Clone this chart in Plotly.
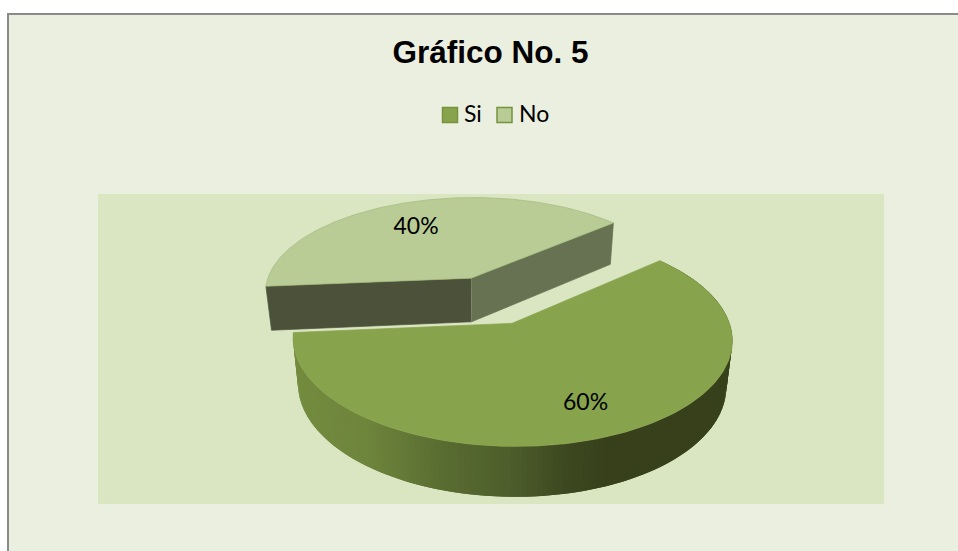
## Gráfico No. 5 - exploded 3D pie drawn with scatter polygons
import numpy as np
import plotly.graph_objects as go

# data
categories = ['Si', 'No']
values = [60, 40]
labels = ['60%', '40%']
top_colors = ['#87A44D', '#B9CC95']
swatch_line = '#76923C'

# view of the pie, all in screen pixels
first_angle = 49      # degrees clockwise from north
explode = 0.25
cx, cy = 491, 300
rad_x, rad_y = 210, 98
persp = 0.1436
depth = 44.5
shrink = 0.975
label_r = [0.75, 0.66]
label_turn = [0, -3]

# gradient stops of the Si outer wall, by screen x
wall_x = [297, 370, 440, 510, 560, 600, 730]
wall_r = [116, 110, 90, 78, 62, 56, 55]
wall_g = [140, 133, 110, 94, 74, 65, 64]
wall_b = [63, 60, 50, 44, 33, 28, 27]


def project(u, v, bottom=False):
    s = 1 / (1 + persp * v)
    x = cx + rad_x * u * s
    y = cy - rad_y * v * s
    if bottom:
        x = cx + (x - cx) * shrink
        y = cy + (y - cy) * shrink + depth * s
    return x, y


def slice_outline(a0, a1, bottom=False):
    mid = np.radians((a0 + a1) / 2)
    ou, ov = explode * np.sin(mid), explode * np.cos(mid)
    th = np.radians(np.linspace(a0, a1, 181))
    x, y = project(ou + np.sin(th), ov + np.cos(th), bottom)
    ax, ay = project(ou, ov, bottom)
    return ax, ay, x, y


def poly(x, y, color, line=None, width=0.7):
    return go.Scatter(x=list(x), y=list(y), mode='lines', fill='toself', fillcolor=color,
                      line=dict(color=line or color, width=width), hoverinfo='skip', showlegend=False)


sweeps = [v / sum(values) * 360 for v in values]
si_a0 = first_angle
si_a1 = si_a0 + sweeps[0]
no_a0 = si_a1
no_a1 = no_a0 + sweeps[1]

fig = go.Figure()

# No slice: two inner walls, then the top
ax, ay, x, y = slice_outline(no_a0, no_a1)
bx, by, xb, yb = slice_outline(no_a0, no_a1, bottom=True)
fig.add_trace(poly([ax, x[0], xb[0], bx], [ay, y[0], yb[0], by], '#4B5239'))
fig.add_trace(poly([ax, x[-1], xb[-1], bx], [ay, y[-1], yb[-1], by], '#667252'))
fig.add_trace(poly(np.r_[ax, x, ax], np.r_[ay, y, ay], top_colors[1], '#A3BA7C'))

# Si slice: outer wall as thin strips for the gradient, each one lapping the next so no seams show
ax, ay, x, y = slice_outline(si_a0, si_a1)
bx, by, xb, yb = slice_outline(si_a0, si_a1, bottom=True)
for i in range(len(x) - 1):
    j = min(i + 2, len(x) - 1)
    mx = (xb[i] + xb[i + 1]) / 2
    col = 'rgb(%d,%d,%d)' % (np.interp(mx, wall_x, wall_r), np.interp(mx, wall_x, wall_g), np.interp(mx, wall_x, wall_b))
    fig.add_trace(poly([x[i], x[j], xb[j], xb[i]], [y[i], y[j], yb[j], yb[i]], col, width=0))
fig.add_trace(poly(np.r_[ax, x, ax], np.r_[ay, y, ay], top_colors[0]))

# data labels
angles = [(si_a0 + si_a1) / 2, (no_a0 + no_a1) / 2]
lx, ly = [], []
for a, r, turn in zip(angles, label_r, label_turn):
    t = np.radians(a + turn)
    px, py = project((explode + r) * np.sin(t), (explode + r) * np.cos(t))
    lx.append(float(px))
    ly.append(float(py))
fig.add_trace(go.Scatter(x=lx, y=ly, mode='text', text=labels, textposition='middle center',
                         textfont=dict(family='Lato', size=23, color='black'),
                         hoverinfo='skip', showlegend=False))

# legend
fig.add_trace(go.Scatter(x=[450, 504.5], y=[115, 115], mode='markers',
                         marker=dict(symbol='square', size=15, color=top_colors,
                                     line=dict(color=swatch_line, width=1.5)),
                         hoverinfo='skip', showlegend=False))
fig.add_trace(go.Scatter(x=[464, 519], y=[116.5, 116.5], mode='text', text=categories,
                         textposition='middle right',
                         textfont=dict(family='Lato', size=23, color='black'),
                         hoverinfo='skip', showlegend=False))

fig.update_layout(
    width=958, height=551, margin=dict(l=0, r=0, t=0, b=0),
    paper_bgcolor='white', plot_bgcolor='white',
    xaxis=dict(range=[0, 958], visible=False, fixedrange=True),
    yaxis=dict(range=[551, 0], visible=False, fixedrange=True),
    title=dict(text='<b>Gráfico No. 5</b>', x=490.5 / 958, xanchor='center', y=1 - 52 / 551, yanchor='middle',
               font=dict(family='Liberation Sans', size=31.5, color='black')),
    shapes=[
        dict(type='rect', layer='below', x0=8, x1=975, y0=14, y1=570, fillcolor='#EBEFDF',
             line=dict(color='#8A8A8A', width=2)),
        dict(type='rect', layer='below', x0=98, x1=884, y0=194, y1=504, fillcolor='#DAE5C2', line=dict(width=0)),
    ],
)
fig.write_html("out.html", config=dict(displayModeBar=False),
               post_script="document.body.style.margin='0';document.body.style.overflow='hidden';")
